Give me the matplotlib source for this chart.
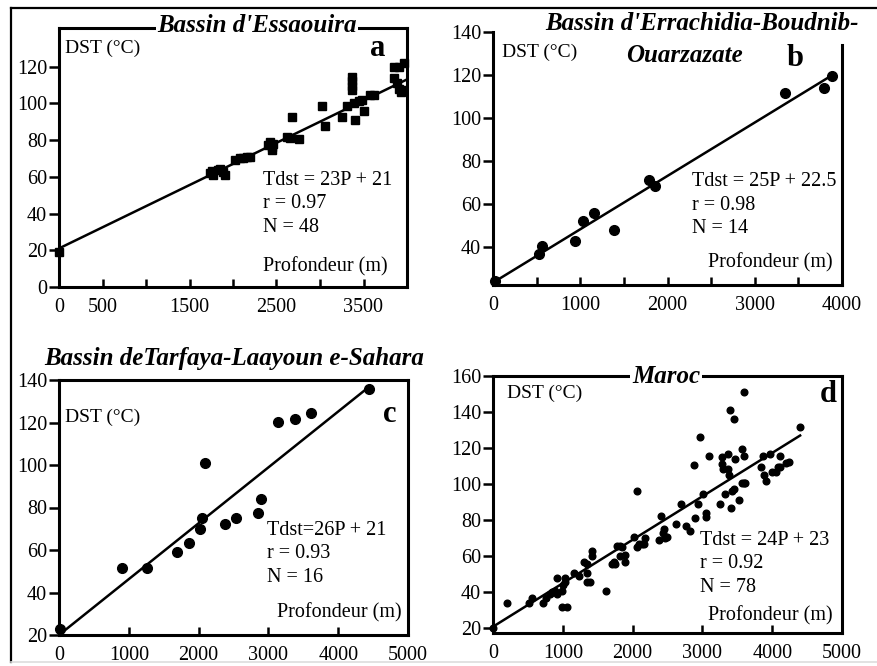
import matplotlib
matplotlib.use("Agg")
import matplotlib.pyplot as plt
from matplotlib.lines import Line2D
from matplotlib.ticker import FixedLocator

plt.rcParams['font.family'] = ['Liberation Serif', 'DejaVu Serif']

W, H = 878, 666

# ---- data (depth in m, DST in degC) ----
ess_x = [0, 1735, 1774, 1831, 1889, 1908, 1760, 1850, 2023, 2081, 2158, 2196, 2120,
         2426, 2445, 2445, 2407, 2460, 2618, 2650, 2676, 2760, 3021, 3060, 3252, 3309,
         3367, 3367, 3367, 3367, 3386, 3405, 3444, 3482, 3509, 3578, 3616, 3847, 3904,
         3847, 3885, 3904, 3943, 3970, 3930]
ess_y = [19, 61.8, 61, 63.6, 62.7, 61, 63, 64, 69, 70, 70.9, 70.9, 70,
         79, 76.4, 74.5, 77.3, 78, 81.8, 81, 92.7, 80.4, 98.5, 87.6, 92.7, 98.5,
         114.5, 112, 109.5, 107.3, 100, 90.9, 101, 101.8, 95.8, 104.5, 104.5, 120, 120,
         114, 111, 108, 107, 121.8, 106]

err_x = [20, 523, 562, 943, 1031, 1161, 1383, 1792, 1853, 3343, 3789, 3885]
err_y = [24.2, 36.6, 40.5, 43, 52, 55.8, 48, 71, 68.4, 111.7, 114, 119.4]

tar_x = [10, 900, 1254, 1697, 1857, 2016, 2054, 2098, 2377, 2536, 2855, 2898,
         3134, 3375, 3617, 4446]
tar_y = [23, 51.7, 51.7, 59.2, 63.5, 69.7, 74.9, 100.8, 72.2, 74.9, 77.6, 84,
         120.4, 121.6, 124.3, 136]

mar_x = [0, 200, 510, 560, 715, 765, 820, 845, 890, 915, 915, 990, 990, 1010, 1035,
         1060, 1035, 1155, 1225, 1300, 1345, 1345, 1345, 1395, 1420, 1420, 1625, 1705,
         1730, 1750, 1775, 1825, 1825, 1895, 1895, 1850, 2015, 2065, 2065, 2085, 2135,
         2180, 2170, 2375, 2410, 2435, 2455, 2470, 2495, 2615, 2695, 2770, 2820, 2885,
         2890, 2930, 2970, 3010, 3050, 3050, 3090, 3250, 3280, 3280, 3295, 3330, 3360,
         3360, 3375, 3400, 3410, 3425, 3450, 3450, 3470, 3520, 3570, 3570, 3590, 3600,
         3615, 3600, 3840, 3870, 3880, 3915, 3965, 3990, 4060, 4080, 4115, 4115, 4200,
         4235, 4395]
mar_y = [20.5, 34, 34, 37, 34, 37, 39, 40, 41, 48, 39, 41, 32, 44, 48,
         32, 46, 51, 49, 57, 56, 51, 46, 46, 63, 60, 41, 56,
         57, 56, 66, 66, 60, 61, 57, 65, 71, 96.5, 65, 67, 67,
         70, 67, 69, 82.5, 73, 75, 70, 71, 78, 89, 77, 74, 110.7,
         81, 89, 126, 94.5, 84, 81.6, 115.4, 89, 115, 111, 108.5, 94.5, 116.6,
         108.5, 105, 141, 87, 96, 136, 97.5, 114, 91.5, 119.7, 100.5, 100.5, 115.4,
         100.5, 151, 109.5, 115.4, 105, 102, 116.6, 106.7, 106.7, 109.5, 115.4, 109.5, 111.6,
         112.5, 131.5]

fit_a = ([0, 4000], [21, 113])
fit_b = ([0, 3870], [23.5, 119.5])
fit_c = ([0, 4450], [20, 137])
fit_d = ([0, 4400], [21, 127])


def add_ax(fig, l, t, r, b):
    return fig.add_axes([l / W, 1 - b / H, (r - l) / W, (b - t) / H])


def ftext(fig, px, py, s, **kw):
    return fig.text(px / W, 1 - py / H, s, **kw)


def style(ax):
    for sp in ax.spines.values():
        sp.set_linewidth(2.2)
    ax.tick_params(axis='y', direction='out', length=7, width=1.8, pad=1.5, labelsize=14.5)
    ax.tick_params(axis='x', direction='in', length=6, width=1.8, pad=8, labelsize=14.5)


fig = plt.figure(figsize=(W / 100, H / 100), dpi=100)

# outer frame
fig.add_artist(Line2D([11 / W, 1], [1 - 8 / H, 1 - 8 / H], color='black', lw=1.6))
fig.add_artist(Line2D([11 / W, 11 / W], [1 - 8 / H, 1 - 662 / H], color='black', lw=1.6))
fig.add_artist(Line2D([11 / W, 1], [1 - 662 / H, 1 - 662 / H], color='#dddddd', lw=1.2))

# ---- a ----
ax = add_ax(fig, 59, 28, 407, 287)
ax.plot(*fit_a, color='black', lw=1.8)
ax.plot(ess_x, ess_y, 's', color='black', ms=5.5, clip_on=False)
ax.set_xlim(0, 4000)
ax.set_ylim(0, 141)
ax.set_yticks(range(0, 121, 20))
ax.xaxis.set_major_locator(FixedLocator(range(0, 4001, 500)))
ax.set_xticklabels(['0', '500', '', '1500', '', '2500', '', '3500', ''])
style(ax)
ftext(fig, 257, 26, "Bassin d'Essaouira", fontsize=18, fontweight='bold', fontstyle='italic',
      ha='center', va='center', bbox=dict(facecolor='white', edgecolor='none', pad=1))
ftext(fig, 65, 48, "DST (°C)", fontsize=14, va='center')
ftext(fig, 378, 48, "a", fontsize=22, fontweight='bold', ha='center', va='center')
ftext(fig, 263, 204, "Tdst = 23P + 21\nr = 0.97\nN = 48", fontsize=14.5, va='center',
      linespacing=1.3)
ftext(fig, 388, 267, "Profondeur (m)", fontsize=14.5, ha='right', va='center')

# ---- b ----
ax = add_ax(fig, 493, 32, 842, 285)
ax.plot(*fit_b, color='black', lw=1.8)
ax.plot(err_x, err_y, 'o', color='black', ms=7, clip_on=False)
ax.set_xlim(0, 4000)
ax.set_ylim(22.4, 140)
ax.set_yticks(range(40, 141, 20))
ax.xaxis.set_major_locator(FixedLocator(range(0, 4001, 500)))
ax.set_xticklabels(['0', '', '1000', '', '2000', '', '3000', '', '4000'])
style(ax)
ax.spines['top'].set_visible(False)
ax.spines['right'].set_bounds(22.4, 134)
ftext(fig, 702, 23, "Bassin d'Errachidia-Boudnib-", fontsize=18, fontweight='bold',
      fontstyle='italic', ha='center', va='center')
ftext(fig, 684, 55, "Ouarzazate", fontsize=18, fontweight='bold', fontstyle='italic',
      ha='center', va='center')
ftext(fig, 502, 52, "DST (°C)", fontsize=14, va='center')
ftext(fig, 795, 58, "b", fontsize=22, fontweight='bold', ha='center', va='center')
ftext(fig, 692, 205, "Tdst = 25P + 22.5\nr = 0.98\nN = 14", fontsize=14.5, va='center',
      linespacing=1.3)
ftext(fig, 833, 263, "Profondeur (m)", fontsize=14.5, ha='right', va='center')

# ---- c ----
ax = add_ax(fig, 59, 380, 408, 635)
ax.plot(*fit_c, color='black', lw=1.8)
ax.plot(tar_x, tar_y, 'o', color='black', ms=7, clip_on=False)
ax.set_xlim(0, 5000)
ax.set_ylim(20, 140)
ax.set_yticks(range(20, 141, 20))
ax.set_xticks(range(0, 5001, 1000))
style(ax)
ftext(fig, 234, 358, "Bassin deTarfaya-Laayoun e-Sahara", fontsize=18, fontweight='bold',
      fontstyle='italic', ha='center', va='center')
ftext(fig, 65, 417, "DST (°C)", fontsize=14, va='center')
ftext(fig, 390, 415, "c", fontsize=22, fontweight='bold', ha='center', va='center')
ftext(fig, 267, 554, "Tdst=26P + 21\nr = 0.93\nN = 16", fontsize=14.5, va='center',
      linespacing=1.3)
ftext(fig, 402, 613, "Profondeur (m)", fontsize=14.5, ha='right', va='center')

# ---- d ----
ax = add_ax(fig, 493, 376, 842, 633)
ax.plot(*fit_d, color='black', lw=1.8)
ax.plot(mar_x, mar_y, 'o', color='black', ms=4.8, clip_on=False)
ax.set_xlim(0, 5000)
ax.set_ylim(17.5, 160)
ax.set_yticks(range(20, 161, 20))
ax.set_xticks(range(0, 5001, 1000))
style(ax)
ftext(fig, 666, 376, "Maroc", fontsize=18, fontweight='bold', fontstyle='italic',
      ha='center', va='center', bbox=dict(facecolor='white', edgecolor='none', pad=1))
ftext(fig, 507, 393, "DST (°C)", fontsize=14, va='center')
ftext(fig, 828, 395, "d", fontsize=22, fontweight='bold', ha='center', va='center')
ftext(fig, 700, 564, "Tdst = 24P + 23\nr = 0.92\nN = 78", fontsize=14.5, va='center',
      linespacing=1.3)
ftext(fig, 833, 616, "Profondeur (m)", fontsize=14.5, ha='right', va='center')

fig.savefig("out.png", dpi=100)
